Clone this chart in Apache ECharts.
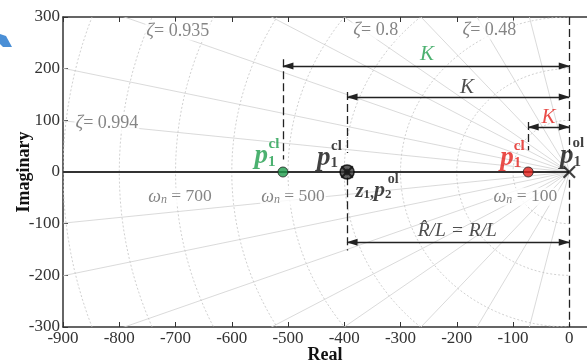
<!DOCTYPE html>
<html><head><meta charset="utf-8">
<script src="https://cdn.jsdelivr.net/npm/echarts@6/dist/echarts.min.js"></script>
<style>html,body{margin:0;padding:0;background:#fff}#c{width:587px;height:363px}</style>
</head><body><div id="c"></div>
<script>
// ---------------- data ----------------
const xTicks = [-900, -800, -700, -600, -500, -400, -300, -200, -100, 0];
const yTicks = [-300, -200, -100, 0, 100, 200, 300];
const zetaValues = [0.994, 0.976, 0.935, 0.87, 0.8, 0.66, 0.48, 0.23];
const wnValues = [100, 200, 300, 400, 500, 600, 700, 800, 900];
const zetaLabelValues = [0.935, 0.8, 0.48, 0.994];
const wnLabelValues = [700, 500, 100];
const closedLoopPoles = [-509, -395, -73];   // green, black, red  (p1 cl)
const closedLoopColors = ['#1f9e4c', '#1a1a1a', '#e3211c'];
const openLoopPoles = [0, -395];              // p1 ol, p2 ol
const zeros = [-395];                         // z1

// ---------------- annotation layout ----------------
const SERIF = '"Liberation Serif", "Times New Roman", serif';
const zetaLabelPos = [[-696, 273], [-344, 275], [-142, 275], [-822, 95]];
const wnLabelPos = [[-692, -48], [-491, -48], [-78, -48]];
const kArrowY = [205, 145, 87];                // for green, black, red K
const kLabelPos = [[-253, 227], [-182, 163], [-37, 105]];
const rlArrowY = -136;
const rlLabelPos = [-199, -114];

const chart = echarts.init(document.getElementById('c'));

function zetaRender(params, api) {
  const z = api.value(0), L = 3000, s = Math.sqrt(1 - z * z);
  const o = api.coord([0, 0]);
  const a = api.coord([-L * z, L * s]);
  const b = api.coord([-L * z, -L * s]);
  return {type: 'polyline', silent: true, shape: {points: [a, o, b]},
    style: {stroke: '#d0d0d0', lineWidth: 0.8, fill: null}};
}
function arcRender(params, api) {
  const r = api.value(0), pts = [];
  for (let d = 90; d <= 270; d += 2) {
    const t = d * Math.PI / 180;
    pts.push(api.coord([r * Math.cos(t), r * Math.sin(t)]));
  }
  return {type: 'polyline', silent: true, shape: {points: pts},
    style: {stroke: '#c4c4c4', lineWidth: 0.8, fill: null, lineDash: [2, 2]}};
}

const zRich = {
  z: {fontFamily: SERIF, fontStyle: 'italic', fontSize: 19, color: '#666'},
  t: {fontFamily: SERIF, fontSize: 18, color: '#666'}
};
const wRich = {
  w: {fontFamily: SERIF, fontStyle: 'italic', fontSize: 18, color: '#666', lineHeight: 18, verticalAlign: 'bottom'},
  n: {fontFamily: SERIF, fontStyle: 'italic', fontSize: 12, color: '#666', lineHeight: 12, verticalAlign: 'bottom'},
  t: {fontFamily: SERIF, fontSize: 17.5, color: '#666', lineHeight: 18, verticalAlign: 'bottom'}
};
function pRich(color) {
  return {
    p: {fontFamily: SERIF, fontStyle: 'italic', fontWeight: 'bold', fontSize: 27, color, lineHeight: 26, verticalAlign: 'bottom'},
    s: {fontFamily: SERIF, fontWeight: 'bold', fontSize: 15, color, lineHeight: 15, verticalAlign: 'bottom'},
    c: {fontFamily: SERIF, fontWeight: 'bold', fontSize: 15, color}
  };
}
function lab(pos, formatter, rich, extra) {
  return {value: pos, label: Object.assign({show: true, position: 'inside', align: 'center', verticalAlign: 'middle', formatter, rich}, extra || {})};
}

const gridLabelData = [];
zetaLabelValues.forEach((z, i) => gridLabelData.push(lab(zetaLabelPos[i], '{z|ζ}{t|= ' + z + '}', zRich, {backgroundColor: '#fff', padding: [0, 1]})));
wnLabelValues.forEach((w, i) => gridLabelData.push(lab(wnLabelPos[i], '{w|ω}{n|n}{t| = ' + w + '}', wRich, {backgroundColor: '#fff', padding: [0, 1]})));

const kColors = ['#1f9e4c', '#222', '#e3211c'];
const textData = [];
kLabelPos.forEach((p, i) => textData.push(lab(p, '{k|K}', {k: {fontFamily: SERIF, fontStyle: 'italic', fontSize: 21, color: kColors[i]}})));
textData.push(lab(rlLabelPos, '{k|R\u0302/L = R/L}', {k: {fontFamily: SERIF, fontStyle: 'italic', fontSize: 19.5, color: '#222'}}));
// p1 cl labels (green, black, red), p1 ol, z1,p2 ol
const pLabels = [
  {pos: [-541, 30], sup: [-525, 54], txt: '{p|p}{s|1}', sTxt: 'cl', color: closedLoopColors[0]},
  {pos: [-430, 27], sup: [-414, 50], txt: '{p|p}{s|1}', sTxt: 'cl', color: '#111'},
  {pos: [-104, 27], sup: [-89, 50], txt: '{p|p}{s|1}', sTxt: 'cl', color: closedLoopColors[2]},
  {pos: [2, 30], sup: [16, 55], txt: '{p|p}{s|1}', sTxt: 'ol', color: '#111'},
  {pos: [-348, -37], sup: [-313, -14], txt: '{z|z}{s|1}{q|,}{p|p}{s|2}', sTxt: 'ol', color: '#111'}
];
pLabels.forEach(l => {
  const r = pRich(l.color);
  r.z = Object.assign({}, r.p, {fontSize: 21, lineHeight: 21});
  r.q = Object.assign({}, r.s, {fontSize: 16});
  if (l.txt.indexOf('z') >= 0) { r.p = Object.assign({}, r.p, {fontSize: 22, lineHeight: 21}); r.s = Object.assign({}, r.s, {fontSize: 13, lineHeight: 13}); r.c = Object.assign({}, r.c, {fontSize: 14}); }
  textData.push(lab(l.pos, l.txt, r));
  textData.push(lab(l.sup, '{c|' + l.sTxt + '}', r));
});

const dashedSegs = [
  [[closedLoopPoles[0], 218], [closedLoopPoles[0], 24]],
  [[closedLoopPoles[1], 155], [closedLoopPoles[1], 37]],
  [[closedLoopPoles[1], -10], [closedLoopPoles[1], -152]],
  [[closedLoopPoles[2], 97], [closedLoopPoles[2], 42]],
  [[openLoopPoles[0], 300], [openLoopPoles[0], 37]],
  [[openLoopPoles[0], -15], [openLoopPoles[0], -300]]
].map(s => [{coord: s[0]}, {coord: s[1]}]);

const arrowSegs = [
  [[closedLoopPoles[0], kArrowY[0]], [openLoopPoles[0], kArrowY[0]]],
  [[closedLoopPoles[1], kArrowY[1]], [openLoopPoles[0], kArrowY[1]]],
  [[closedLoopPoles[2], kArrowY[2]], [openLoopPoles[0], kArrowY[2]]],
  [[zeros[0], rlArrowY], [openLoopPoles[0], rlArrowY]]
].map(s => [{coord: s[0]}, {coord: s[1]}]);

const X_PATH = 'path://M0,1.2L1.2,0L5,3.8L8.8,0L10,1.2L6.2,5L10,8.8L8.8,10L5,6.2L1.2,10L0,8.8L3.8,5Z';

const axisCommon = {
  axisLine: {show: true, onZero: false, lineStyle: {color: '#333', width: 1.5}},
  splitLine: {show: false}
};

const option = {
  animation: false,
  backgroundColor: '#fff',
  grid: {left: 63, right: 0, top: 17, bottom: 36, containLabel: false, outerBoundsMode: 'none'},
  xAxis: [
    Object.assign({type: 'value', min: -900, max: 31.5, position: 'bottom',
      name: 'Real', nameLocation: 'middle', nameGap: 19, nameMoveOverlap: false,
      nameTextStyle: {fontFamily: SERIF, fontWeight: 'bold', fontSize: 18, color: '#111'},
      axisTick: {show: true, inside: true, length: 5, customValues: xTicks, lineStyle: {color: '#333'}},
      axisLabel: {customValues: xTicks, fontFamily: SERIF, fontSize: 17, color: '#333', margin: 3,
        formatter: v => (xTicks.indexOf(v) >= 0 ? String(v) : '')}
    }, axisCommon),
    Object.assign({type: 'value', min: -900, max: 31.5, position: 'top',
      axisTick: {show: true, inside: true, length: 5, customValues: xTicks, lineStyle: {color: '#333'}},
      axisLabel: {show: false}
    }, axisCommon)
  ],
  yAxis: [
    Object.assign({type: 'value', min: -300, max: 300, interval: 100, position: 'left',
      name: 'Imaginary', nameLocation: 'middle', nameGap: 30, nameMoveOverlap: false,
      nameTextStyle: {fontFamily: SERIF, fontWeight: 'bold', fontSize: 18, color: '#111'},
      axisTick: {show: true, inside: true, length: 5, lineStyle: {color: '#333'}},
      axisLabel: {fontFamily: SERIF, fontSize: 17, color: '#333', margin: 3}
    }, axisCommon)
  ],
  graphic: [{type: 'polygon', shape: {points: [[0, 34], [6, 36], [12, 47], [3, 47], [0, 44]]}, style: {fill: '#4a8fd6'}}],
  series: [
    {type: 'custom', name: 'zeta', clip: true, z: 1, renderItem: zetaRender, data: zetaValues.map(z => [z, 0])},
    {type: 'custom', name: 'wn', clip: true, z: 1, renderItem: arcRender, data: wnValues.map(w => [w, 0])},
    {type: 'scatter', name: 'gridLabels', z: 2, symbolSize: 0, silent: true, data: gridLabelData},
    {type: 'line', name: 'realAxis', z: 3, symbol: 'none', silent: true,
      lineStyle: {color: '#333', width: 2}, data: [[-900, 0], [0, 0]]},
    {type: 'line', name: 'dashed', z: 3, symbol: 'none', silent: true, data: [],
      markLine: {silent: true, symbol: ['none', 'none'], label: {show: false}, animation: false,
        lineStyle: {type: [8, 4], color: '#222', width: 1.3}, emphasis: {disabled: true}, data: dashedSegs}},
    {type: 'line', name: 'arrows', z: 4, symbol: 'none', silent: true, data: [],
      markLine: {silent: true, symbol: ['triangle', 'triangle'], symbolSize: [7, 11], symbolOffset: [[0, 5], [0, 5]],
        label: {show: false}, animation: false,
        lineStyle: {type: 'solid', color: '#222', width: 1.4}, itemStyle: {color: '#222'}, emphasis: {disabled: true}, data: arrowSegs}},
    {type: 'scatter', name: 'zero', z: 5, silent: true, symbol: 'circle', symbolSize: 14,
      itemStyle: {color: '#3a3a3a', borderColor: '#000', borderWidth: 1.5}, data: zeros.map(v => [v, 0])},
    {type: 'scatter', name: 'openLoop', z: 6, silent: true, symbol: X_PATH, symbolSize: 13,
      itemStyle: {color: '#111'}, data: openLoopPoles.map(v => [v, 0])},
    {type: 'scatter', name: 'closedLoop', z: 7, silent: true, symbol: 'circle',
      data: closedLoopPoles.map((v, i) => ({value: [v, 0], symbolSize: i === 1 ? 6 : 10,
        itemStyle: {color: closedLoopColors[i], borderColor: '#222', borderWidth: 1}}))},
    {type: 'scatter', name: 'text', z: 8, symbolSize: 0, silent: true, data: textData}
  ]
};
chart.setOption(option);
</script>
</body></html>
